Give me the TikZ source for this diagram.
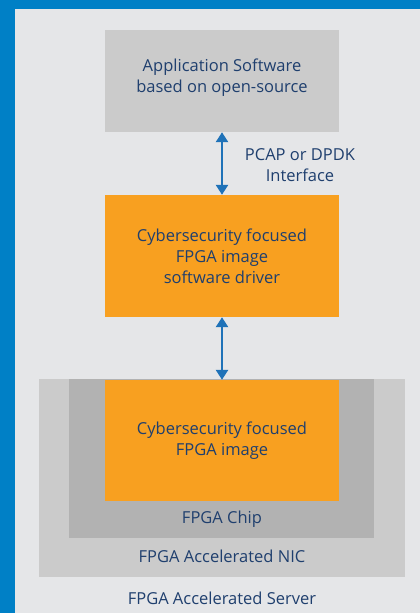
\documentclass[tikz,border=0pt]{standalone}
\usepackage{fontspec}
\setmainfont{Open Sans}
\usetikzlibrary{arrows.meta}
\definecolor{frameblue}{HTML}{0080C6}
\definecolor{bggrey}{HTML}{E5E6E8}
\definecolor{boxgrey}{HTML}{CBCBCB}
\definecolor{chipgrey}{HTML}{B2B2B2}
\definecolor{fpgaorange}{HTML}{F8A020}
\definecolor{txtblue}{HTML}{1F3F6E}
\definecolor{arrblue}{HTML}{1F72B8}
\begin{document}
\begin{tikzpicture}[x=1pt,y=-1pt,
  box/.style={rectangle,inner sep=0pt,draw=none,text=txtblue,align=center,
    font=\fontsize{16.5}{21}\selectfont},
  lbl/.style={inner sep=0pt,text=txtblue,align=center,font=\fontsize{16.5}{21}\selectfont},
  arr/.style={draw=arrblue,line width=2.7pt,{Triangle[width=12pt,length=10pt]}-{Triangle[width=12pt,length=10pt]}}]
\fill[frameblue] (0,0) rectangle (420,613);
\useasboundingbox (0,0) rectangle (420,613);
\fill[bggrey] (15,9) rectangle (420,613);
\node[box,fill=boxgrey,minimum width=234pt,minimum height=102pt] (app) at (222,81) {};
\node[lbl] (apptxt) at (222,78) {Application Software\\based on open-source};
\node[box,fill=fpgaorange,minimum width=234pt,minimum height=122pt] (drv) at (222,256) {Cybersecurity focused\\FPGA image\\software driver};
\node[box,fill=boxgrey,minimum width=366pt,minimum height=198pt] (nic) at (222,478) {};
\node[box,fill=chipgrey,minimum width=305pt,minimum height=159pt] (chip) at (221.5,458.5) {};
\node[box,fill=fpgaorange,minimum width=234pt,minimum height=121pt] (img) at (222,440.5) {Cybersecurity focused\\FPGA image};
\node[lbl] (chiptxt) at (222,519) {FPGA Chip};
\node[lbl] (nictxt) at (222,556) {FPGA Accelerated NIC};
\node[lbl] (srvtxt) at (222,598) {FPGA Accelerated Server};
\node[lbl] (iface) at (300,165.5) {PCAP or DPDK\\Interface};
\draw[arr] (app.south) -- (drv.north);
\draw[arr] (drv.south) -- (img.north);
\end{tikzpicture}
\end{document}
